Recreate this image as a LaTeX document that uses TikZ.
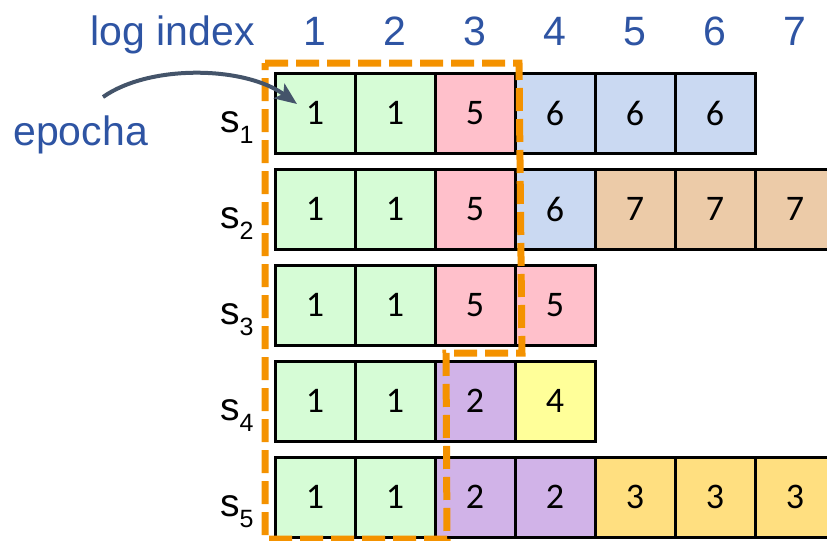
\documentclass[tikz,border=0pt]{standalone}
\usepackage{fontspec}
\setmainfont{Liberation Sans}
\newfontfamily\cellfont{Carlito}
\usetikzlibrary{arrows.meta}

\definecolor{idxblue}{RGB}{46,84,163}
\definecolor{arrowgray}{RGB}{68,84,106}
\definecolor{epochorange}{RGB}{244,146,0}
\definecolor{cg}{RGB}{214,252,214}
\definecolor{cp}{RGB}{255,192,203}
\definecolor{cb}{RGB}{202,217,242}
\definecolor{ct}{RGB}{236,203,168}
\definecolor{cv}{RGB}{209,179,232}
\definecolor{cy}{RGB}{255,255,153}
\definecolor{co}{RGB}{255,223,128}

\begin{document}
\begin{tikzpicture}[x=0.5pt,y=-0.5pt,
        cell/.style={draw,line width=1.5pt,minimum width=40pt,minimum height=40pt,
            inner sep=0pt,font=\cellfont\fontsize{18}{18}\selectfont},
        hdr/.style={text=idxblue,inner sep=0pt,font=\fontsize{20.5}{20.5}\selectfont,anchor=base},
        srv/.style={inner sep=0pt,font=\fontsize{19.5}{19.5}\selectfont,anchor=base east},
        epoch/.style={draw=epochorange,line width=3.5pt,dash pattern=on 11.5pt off 4pt}]
        \useasboundingbox (0,0) rectangle (827,541);

        % Coordinates
        \coordinate (E1) at (265,63);
        \coordinate (E2) at (519,63);
        \coordinate (E3) at (522,353);
        \coordinate (E4) at (446,353);
        \coordinate (E5) at (447,539);
        \coordinate (E6) at (265,539);
        \coordinate (AS) at (103,97);
        \coordinate (AT) at (297,104);

        % Header
        \node[hdr,anchor=base east] (logidx) at (255,45) {log index};
        \foreach \i in {1,...,7}
            \node[hdr] (h\i) at ({315+80*(\i-1)},45) {\i};

        % Logs
        \foreach \r/\cells in {1/{1/cg,1/cg,5/cp,6/cb,6/cb,6/cb},
                2/{1/cg,1/cg,5/cp,6/cb,7/ct,7/ct,7/ct},
                3/{1/cg,1/cg,5/cp,5/cp},
                4/{1/cg,1/cg,2/cv,4/cy},
                5/{1/cg,1/cg,2/cv,2/cv,3/co,3/co,3/co}}{
            \node[srv] (s\r) at (254,{132+96*(\r-1)})
                {s\raisebox{-5.5pt}{\fontsize{12.5}{12.5}\selectfont\r}};
            \foreach \v/\f [count=\c] in \cells
                \node[cell,fill=\f] (c\r\c) at ({315+80*(\c-1)},{113+96*(\r-1)}) {\v};
        }

        % Drawing
        \draw[epoch] (E1) -- (E2) -- (E3) -- (E4) -- (E5) -- (E6) -- cycle;
        \node[hdr,anchor=base west] (epocha) at (13,145) {epocha};
        \draw[arrowgray,line width=2pt,-{Stealth[length=11pt,width=9pt,inset=2.5pt]}]
            (AS) .. controls (150,64) and (245,66) .. (AT);
\end{tikzpicture}
\end{document}
